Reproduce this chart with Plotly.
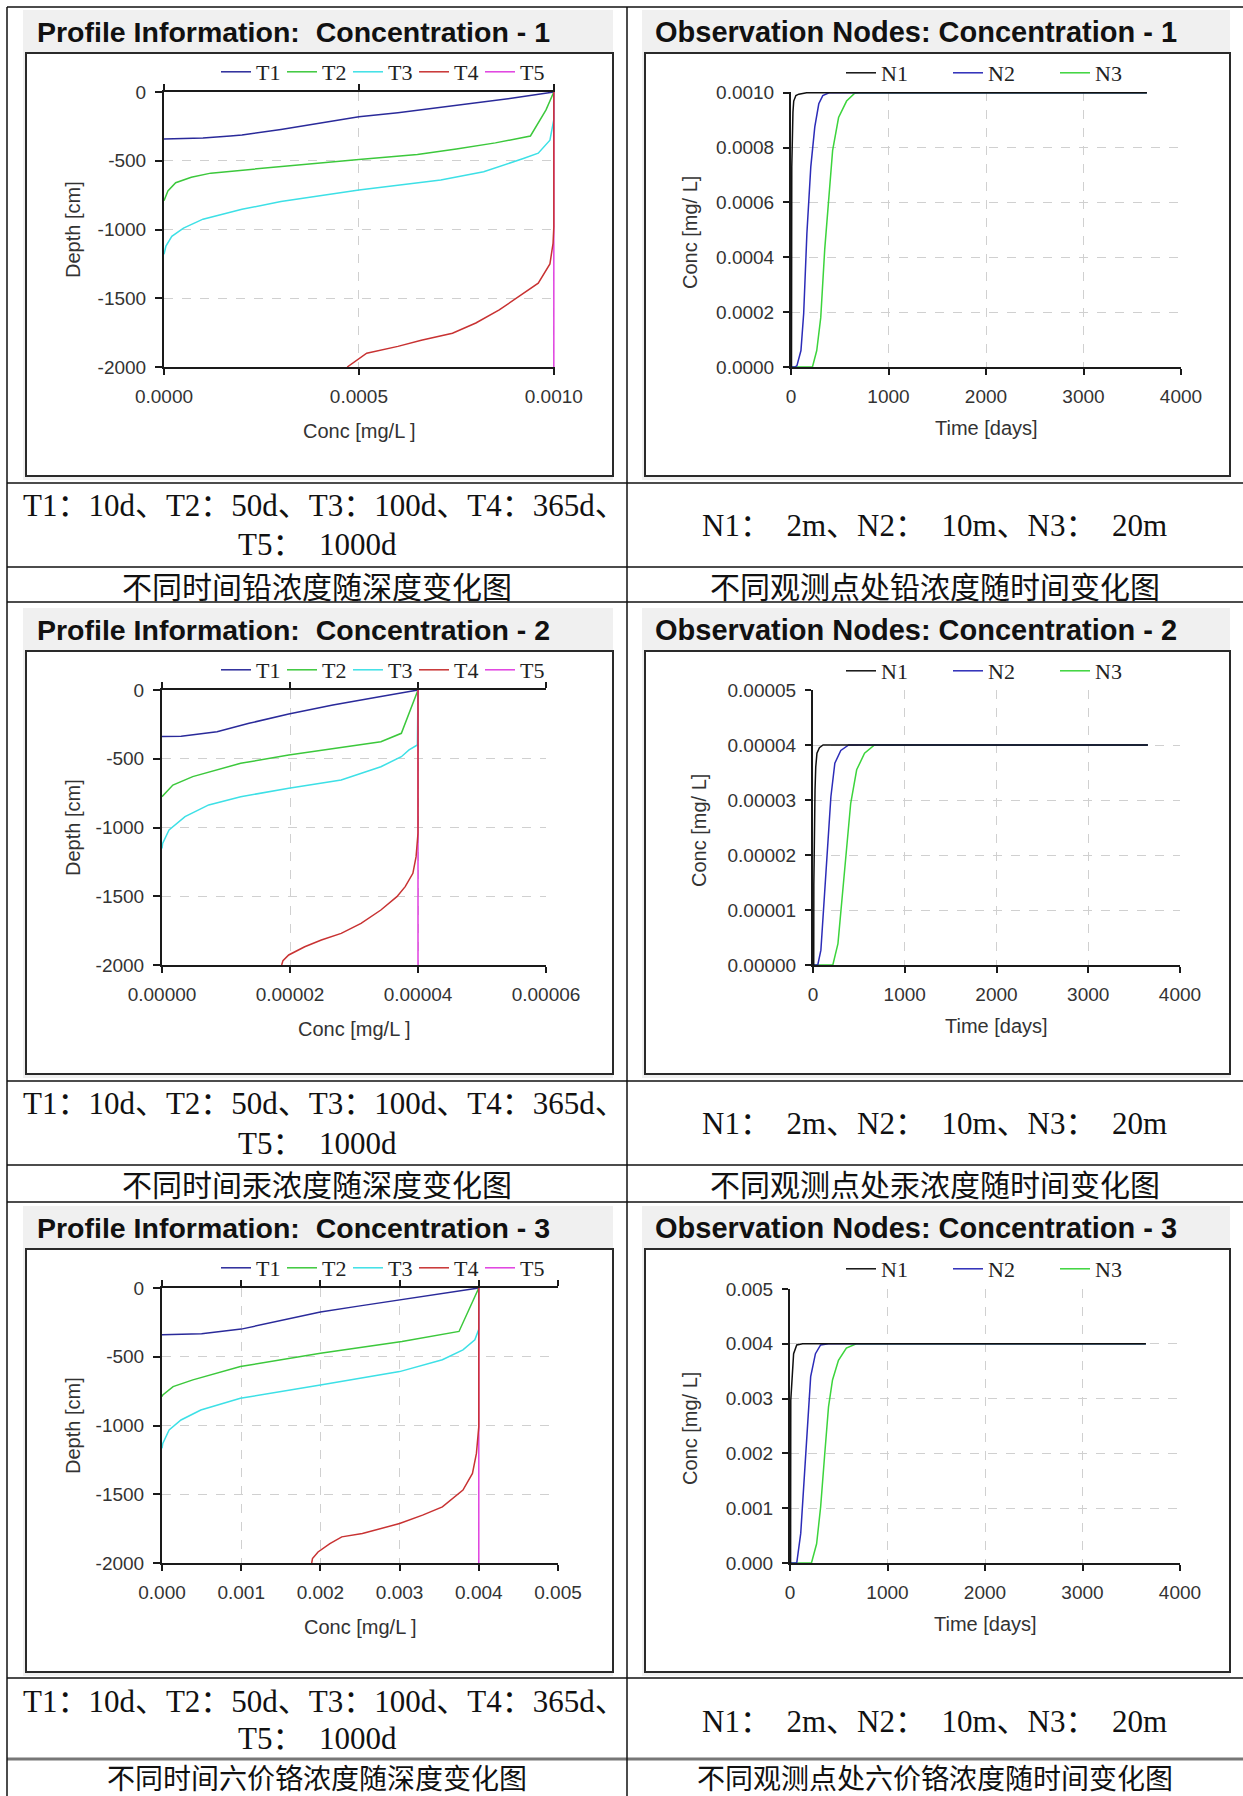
import plotly.graph_objects as go

W, H = 1243, 1796


def px(x):
    return x / W


def py(y):
    return 1 - y / H


# ---------------- DATA ----------------
# Profile 1 (lead): concentration [mg/L] vs depth [cm]
p1_T1_conc = [0, 0.00005, 0.0001, 0.00017, 0.0002, 0.0003, 0.0004, 0.0005, 0.0006, 0.0007, 0.0008, 0.0009, 0.001]
p1_T1_depth = [-342, -340, -335, -320, -312, -272, -225, -180, -150, -115, -80, -42, 0]
p1_T2_conc = [0.001, 0.00098, 0.00094, 0.00085, 0.00075, 0.00065, 0.0005, 0.0004, 0.0003, 0.0002, 0.00012, 0.00007, 0.00003, 0.00001, 0]
p1_T2_depth = [0, -130, -320, -370, -415, -455, -490, -515, -540, -565, -590, -620, -660, -720, -790]
p1_T3_conc = [0.001, 0.001, 0.00099, 0.00096, 0.00092, 0.00082, 0.00071, 0.0005, 0.0003, 0.0002, 0.0001, 0.00005, 0.00002, 0.000005, 0]
p1_T3_depth = [0, -200, -350, -445, -485, -580, -640, -713, -797, -853, -925, -990, -1050, -1120, -1180]
p1_T4_conc = [0.001, 0.001, 0.000998, 0.00099, 0.00096, 0.000925, 0.00086, 0.0008, 0.00074, 0.00066, 0.0006, 0.00052, 0.00049, 0.00047]
p1_T4_depth = [0, -980, -1100, -1250, -1390, -1460, -1585, -1680, -1755, -1805, -1850, -1900, -1960, -2000]
p1_T5_conc = [0.001, 0.001]
p1_T5_depth = [0, -2000]

# Profile 2 (mercury)
p2_T1_conc = [0, 0.000003, 0.0000086, 0.0000136, 0.0000198, 0.0000267, 0.0000342, 0.00004]
p2_T1_depth = [-339, -336, -303, -242, -175, -109, -48, 0]
p2_T2_conc = [0.00004, 0.0000374, 0.0000342, 0.0000198, 0.0000123, 0.0000048, 0.0000017, 0.0000002, 0]
p2_T2_depth = [0, -315, -376, -473, -533, -630, -691, -764, -776]
p2_T3_conc = [0.00004, 0.0000399, 0.0000386, 0.0000374, 0.0000342, 0.000028, 0.0000198, 0.0000123, 0.0000073, 0.0000036, 0.0000011, 0.0000001, 0]
p2_T3_depth = [0, -400, -436, -485, -558, -655, -715, -776, -836, -921, -1018, -1115, -1152]
p2_T4_conc = [0.00004, 0.00004, 0.0000397, 0.0000392, 0.000038, 0.0000367, 0.0000342, 0.0000311, 0.000028, 0.0000249, 0.0000223, 0.0000198, 0.0000189, 0.0000187]
p2_T4_depth = [0, -1040, -1212, -1333, -1430, -1503, -1600, -1697, -1770, -1818, -1867, -1927, -1968, -2000]
p2_T5_conc = [0.00004, 0.00004]
p2_T5_depth = [0, -2000]

# Profile 3 (hexavalent chromium)
p3_T1_conc = [0, 0.0005, 0.001, 0.0015, 0.002, 0.0025, 0.003, 0.0035, 0.004]
p3_T1_depth = [-340, -332, -299, -235, -175, -130, -85, -40, 0]
p3_T2_conc = [0.004, 0.00375, 0.00303, 0.002, 0.00099, 0.00039, 0.00014, 0.00001, 0]
p3_T2_depth = [0, -316, -389, -474, -571, -668, -717, -778, -790]
p3_T3_conc = [0.004, 0.004, 0.00395, 0.0038, 0.00354, 0.003, 0.002, 0.00099, 0.00049, 0.00024, 0.00009, 0.00001, 0]
p3_T3_depth = [0, -300, -377, -450, -522, -608, -705, -802, -887, -960, -1033, -1130, -1166]
p3_T4_conc = [0.004, 0.004, 0.00397, 0.00392, 0.0038, 0.00354, 0.00329, 0.003, 0.00253, 0.00227, 0.00212, 0.00197, 0.0019, 0.00189]
p3_T4_depth = [0, -1008, -1203, -1349, -1470, -1592, -1652, -1713, -1786, -1810, -1859, -1920, -1968, -2000]
p3_T5_conc = [0.004, 0.004]
p3_T5_depth = [0, -2000]

# Observation nodes 1 (lead): time [days] vs concentration [mg/L]
o1_N1_time = [0, 5, 8, 12, 20, 28, 50, 80, 160, 3650]
o1_N1_conc = [0, 0, 0.00073, 0.00085, 0.00093, 0.00097, 0.00099, 0.000995, 0.001, 0.001]
o1_N2_time = [0, 40, 61, 102, 130, 163, 203, 244, 285, 326, 390, 3650]
o1_N2_conc = [0, 0, 0.000005, 0.00006, 0.000195, 0.000487, 0.00073, 0.000876, 0.00096, 0.00099, 0.001, 0.001]
o1_N3_time = [0, 220, 264, 305, 346, 387, 427, 488, 570, 651, 700, 3650]
o1_N3_conc = [0, 0, 0.00006, 0.00018, 0.00043, 0.00061, 0.00079, 0.00091, 0.00097, 0.000998, 0.001, 0.001]

# Observation nodes 2 (mercury)
o2_N1_time = [0, 8, 9, 15, 22, 30, 43, 70, 110, 3650]
o2_N1_conc = [0, 0, 0.0000145, 0.000025, 0.0000318, 0.000036, 0.0000385, 0.0000395, 0.00004, 0.00004]
o2_N2_time = [0, 52, 86, 117, 151, 195, 238, 303, 389, 3650]
o2_N2_conc = [0, 0, 0.0000027, 0.0000106, 0.0000197, 0.0000306, 0.0000367, 0.000039, 0.00004, 0.00004]
o2_N3_time = [0, 216, 272, 324, 368, 411, 476, 562, 670, 3650]
o2_N3_conc = [0, 0, 0.0000039, 0.0000136, 0.0000209, 0.0000294, 0.0000355, 0.0000385, 0.00004, 0.00004]

# Observation nodes 3 (hexavalent chromium)
o3_N1_time = [0, 6, 8, 20, 37, 69, 130, 3650]
o3_N1_conc = [0, 0, 0.00297, 0.0034, 0.00382, 0.00398, 0.004, 0.004]
o3_N2_time = [0, 69, 110, 138, 171, 212, 261, 314, 395, 3650]
o3_N2_conc = [0, 0, 0.00054, 0.00133, 0.00242, 0.0034, 0.00382, 0.00398, 0.004, 0.004]
o3_N3_time = [0, 220, 273, 314, 354, 395, 436, 497, 578, 680, 3650]
o3_N3_conc = [0, 0, 0.00035, 0.00102, 0.00194, 0.00285, 0.00334, 0.0037, 0.00392, 0.004, 0.004]

depth_ticks = [0, -500, -1000, -1500, -2000]
depth_ticktext = ["0", "-500", "-1000", "-1500", "-2000"]

profile_titles = ["Profile Information:\u00a0 Concentration - 1",
                  "Profile Information:\u00a0 Concentration - 2",
                  "Profile Information:\u00a0 Concentration - 3"]
obs_titles = ["Observation Nodes: Concentration - 1",
              "Observation Nodes: Concentration - 2",
              "Observation Nodes: Concentration - 3"]
note_left_1 = "T1：10d、T2：50d、T3：100d、T4：365d、"
note_left_2 = "T5：\u00a0 1000d"
note_right = "N1：\u00a0 2m、N2：\u00a0 10m、N3：\u00a0 20m"
captions_left = ["不同时间铅浓度随深度变化图", "不同时间汞浓度随深度变化图", "不同时间六价铬浓度随深度变化图"]
captions_right = ["不同观测点处铅浓度随时间变化图", "不同观测点处汞浓度随时间变化图", "不同观测点处六价铬浓度随时间变化图"]

T_names = ["T1", "T2", "T3", "T4", "T5"]
N_names = ["N1", "N2", "N3"]

# ---------------- STYLE ----------------
T_colors = ["#2a2a9a", "#3cc83c", "#3de0e6", "#c83232", "#e040e0"]
N_colors = ["#111111", "#2c2cb8", "#3cd43c"]
SANS = "Liberation Sans, Arial, sans-serif"
SERIF = "Liberation Serif, Times New Roman, serif"
CJK = "Liberation Serif, Noto Sans CJK SC, serif"
TICKFONT = dict(family=SANS, size=19, color="#333333")
TITLEFONT = dict(family=SANS, size=20, color="#333333")
GRID = "#d0d0d0"

fig = go.Figure()

profiles = [
    ([p1_T1_conc, p1_T2_conc, p1_T3_conc, p1_T4_conc, p1_T5_conc],
     [p1_T1_depth, p1_T2_depth, p1_T3_depth, p1_T4_depth, p1_T5_depth]),
    ([p2_T1_conc, p2_T2_conc, p2_T3_conc, p2_T4_conc, p2_T5_conc],
     [p2_T1_depth, p2_T2_depth, p2_T3_depth, p2_T4_depth, p2_T5_depth]),
    ([p3_T1_conc, p3_T2_conc, p3_T3_conc, p3_T4_conc, p3_T5_conc],
     [p3_T1_depth, p3_T2_depth, p3_T3_depth, p3_T4_depth, p3_T5_depth]),
]
observations = [
    ([o1_N1_time, o1_N2_time, o1_N3_time], [o1_N1_conc, o1_N2_conc, o1_N3_conc]),
    ([o2_N1_time, o2_N2_time, o2_N3_time], [o2_N1_conc, o2_N2_conc, o2_N3_conc]),
    ([o3_N1_time, o3_N2_time, o3_N3_time], [o3_N1_conc, o3_N2_conc, o3_N3_conc]),
]

# layout geometry (pixels)
row_off = [0, 598, 1196]
prof_x = [(164, 555), (162, 546), (162, 558)]
prof_xrange = [[0, 0.001003], [0, 0.00006], [0, 0.005]]
prof_dtick = [0.0005, 0.00002, 0.001]
prof_fmt = [".4f", ".5f", ".3f"]
prof_y = [(92, 367), (690, 965), (1288, 1563)]
obs_x = [(791, 1181), (813, 1180), (790, 1180)]
obs_y = [(92, 367), (690, 965), (1289, 1563)]
obs_yrange = [[0, 0.001003], [0, 0.00005], [0, 0.005]]
obs_dtick = [0.0002, 0.00001, 0.001]
obs_fmt = [".4f", ".5f", ".3f"]
obs_ytitle_x = [690, 699, 690]

layout = dict(
    width=W, height=H, margin=dict(l=0, r=0, t=0, b=0, autoexpand=False),
    paper_bgcolor="white", plot_bgcolor="rgba(0,0,0,0)",
    showlegend=True, shapes=[], annotations=[],
)

draw_order = [0, 1, 2, 4, 3]  # T5 beneath T4
for i in range(3):
    pxn = 2 * i + 1
    oxn = 2 * i + 2
    pxname = "x" if pxn == 1 else f"x{pxn}"
    pyname = "y" if pxn == 1 else f"y{pxn}"
    oxname = f"x{oxn}"
    oyname = f"y{oxn}"
    plg = "legend" if i == 0 else f"legend{2 * i + 1}"
    olg = f"legend{2 * i + 2}"

    concs, depths = profiles[i]
    for k in draw_order:
        fig.add_trace(go.Scatter(
            x=concs[k], y=depths[k], mode="lines", name=T_names[k],
            line=dict(color=T_colors[k], width=1.5),
            xaxis=pxname, yaxis=pyname, legend=plg, legendrank=k + 1))
    times, oconcs = observations[i]
    for k in [2, 1, 0]:
        fig.add_trace(go.Scatter(
            x=times[k], y=oconcs[k], mode="lines", name=N_names[k],
            line=dict(color=N_colors[k], width=1.5),
            xaxis=oxname, yaxis=oyname, legend=olg, legendrank=k + 1))

    common = dict(showline=True, linecolor="#1a1a1a", linewidth=2,
                  ticks="outside", tickwidth=2, tickcolor="#1a1a1a",
                  showgrid=True, gridcolor=GRID, griddash="dash", gridwidth=1,
                  zeroline=False, tickfont=TICKFONT, automargin=False, fixedrange=True)

    x0, x1 = prof_x[i]
    y0, y1 = prof_y[i]
    layout["xaxis" if pxn == 1 else f"xaxis{pxn}"] = dict(
        domain=[px(x0), px(x1)], range=prof_xrange[i], anchor=pyname,
        tick0=0, dtick=prof_dtick[i], tickformat=prof_fmt[i],
        mirror="ticks", ticklen=6, ticklabelstandoff=5, **common)
    layout["yaxis" if pxn == 1 else f"yaxis{pxn}"] = dict(
        domain=[py(y1), py(y0)], range=[-2000, 0], anchor=pxname,
        tickvals=depth_ticks, ticktext=depth_ticktext,
        ticklen=7, ticklabelstandoff=5, **common)

    ox0, ox1 = obs_x[i]
    oy0, oy1 = obs_y[i]
    layout[f"xaxis{oxn}"] = dict(
        domain=[px(ox0), px(ox1)], range=[0, 4000], anchor=oyname,
        tick0=0, dtick=1000, ticklen=6, ticklabelstandoff=5, **common)
    layout[f"yaxis{oxn}"] = dict(
        domain=[py(oy1), py(oy0)], range=obs_yrange[i], anchor=oxname,
        tick0=0, dtick=obs_dtick[i], tickformat=obs_fmt[i],
        ticklen=6, ticklabelstandoff=5, **common)

    off = row_off[i]
    # legends
    layout[plg] = dict(
        orientation="h", x=px(216), y=py(72 + off), xanchor="left", yanchor="middle",
        bgcolor="rgba(0,0,0,0)", borderwidth=0, itemwidth=30,
        entrywidth=21, entrywidthmode="pixels",
        font=dict(family=SERIF, size=22, color="#222222"), traceorder="normal")
    layout[olg] = dict(
        orientation="h", x=px(841), y=py(73 + off), xanchor="left", yanchor="middle",
        bgcolor="rgba(0,0,0,0)", borderwidth=0, itemwidth=30,
        entrywidth=62, entrywidthmode="pixels",
        font=dict(family=SERIF, size=22, color="#222222"), traceorder="normal")

    # panel backgrounds & frames
    for (gx0, gx1) in [(23, 613), (642, 1230)]:
        layout["shapes"].append(dict(
            type="rect", xref="paper", yref="paper", layer="below",
            x0=px(gx0), x1=px(gx1), y0=py(480 + off), y1=py(10 + off),
            fillcolor="#f0f0f0", line=dict(width=0)))
        layout["shapes"].append(dict(
            type="rect", xref="paper", yref="paper", layer="below",
            x0=px(gx0 + 3), x1=px(gx1), y0=py(476 + off), y1=py(53 + off),
            fillcolor="white", line=dict(color="#2a2a2a", width=2)))

    # panel titles
    layout["annotations"].append(dict(
        text=profile_titles[i], xref="paper", yref="paper", x=px(35), y=py(32 + off),
        xanchor="left", yanchor="middle", showarrow=False,
        font=dict(family=SANS, size=28.5, color="#111111", weight="bold")))
    layout["annotations"].append(dict(
        text=obs_titles[i], xref="paper", yref="paper", x=px(653), y=py(32 + off),
        xanchor="left", yanchor="middle", showarrow=False,
        font=dict(family=SANS, size=29, color="#111111", weight="bold")))

    # axis titles
    layout["annotations"].append(dict(
        text="Depth [cm]", xref="paper", yref="paper", x=px(73), y=py(230 + off),
        xanchor="center", yanchor="middle", textangle=-90, showarrow=False,
        font=TITLEFONT))
    layout["annotations"].append(dict(
        text="Conc [mg/L ]", xref="paper", yref="paper", x=px((x0 + x1) / 2), y=py(431 + off),
        xanchor="center", yanchor="middle", showarrow=False,
        font=TITLEFONT))
    layout["annotations"].append(dict(
        text="Conc [mg/ L]", xref="paper", yref="paper", x=px(obs_ytitle_x[i]), y=py(233 + off),
        xanchor="center", yanchor="middle", textangle=-90, showarrow=False,
        font=TITLEFONT))
    layout["annotations"].append(dict(
        text="Time [days]", xref="paper", yref="paper", x=px((ox0 + ox1) / 2), y=py(428 + off),
        xanchor="center", yanchor="middle", showarrow=False,
        font=TITLEFONT))

    # notes and captions
    ty0 = 483 + off
    line2_y = ty0 + 62 if i < 2 else ty0 + 59
    cap_y = ty0 + 102 if i < 2 else ty0 + 98
    cap_size = 30 if i < 2 else 28
    layout["annotations"].append(dict(
        text=note_left_1, xref="paper", yref="paper", x=px(324), y=py(ty0 + 22),
        xanchor="center", yanchor="middle", showarrow=False,
        font=dict(family=CJK, size=31, color="#111111")))
    layout["annotations"].append(dict(
        text=note_left_2, xref="paper", yref="paper", x=px(317), y=py(line2_y),
        xanchor="center", yanchor="middle", showarrow=False,
        font=dict(family=CJK, size=31, color="#111111")))
    layout["annotations"].append(dict(
        text=note_right, xref="paper", yref="paper", x=px(935), y=py(ty0 + 42),
        xanchor="center", yanchor="middle", showarrow=False,
        font=dict(family=CJK, size=31, color="#111111")))
    layout["annotations"].append(dict(
        text=captions_left[i], xref="paper", yref="paper", x=px(317), y=py(cap_y),
        xanchor="center", yanchor="middle", showarrow=False,
        font=dict(family="Noto Sans CJK SC", size=cap_size, color="#111111")))
    layout["annotations"].append(dict(
        text=captions_right[i], xref="paper", yref="paper", x=px(935), y=py(cap_y),
        xanchor="center", yanchor="middle", showarrow=False,
        font=dict(family="Noto Sans CJK SC", size=cap_size, color="#111111")))

# table lines
hlines = [7, 483, 567, 602, 1081, 1165, 1202, 1678]
for yy in hlines:
    layout["shapes"].append(dict(
        type="line", xref="paper", yref="paper", x0=px(7), x1=1, y0=py(yy), y1=py(yy),
        line=dict(color="#111111", width=1.5)))
layout["shapes"].append(dict(
    type="line", xref="paper", yref="paper", x0=px(7), x1=1, y0=py(1759), y1=py(1759),
    line=dict(color="#777777", width=3)))
for xx in [7, 627]:
    layout["shapes"].append(dict(
        type="line", xref="paper", yref="paper", x0=px(xx), x1=px(xx), y0=0, y1=py(7),
        line=dict(color="#111111", width=1.5)))

fig.update_layout(**layout)
fig.write_html("out.html", config={"displayModeBar": False},
               post_script="document.body.style.margin='0px';")
